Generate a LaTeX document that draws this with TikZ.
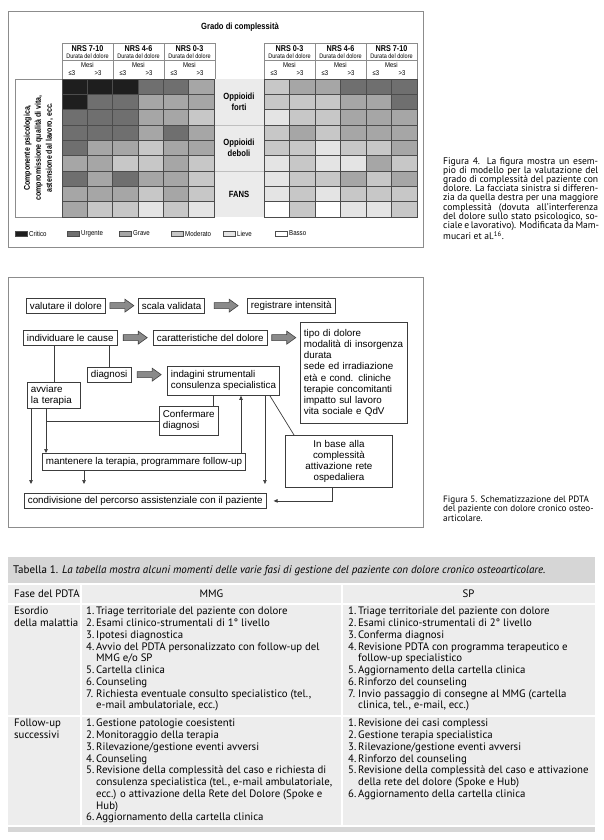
\documentclass[tikz,border=0pt]{standalone}
\usepackage{fontspec}
\setmainfont{Liberation Sans}
\newfontfamily\capfont{PT Sans}
\newfontfamily\condfont[FakeStretch=0.85]{Liberation Sans}
\usetikzlibrary{arrows.meta,positioning,calc}
\definecolor{lvlC}{HTML}{1E1E1E}
\definecolor{lvlU}{HTML}{6F6F6F}
\definecolor{lvlG}{HTML}{A6A6A6}
\definecolor{lvlM}{HTML}{C7C7C7}
\definecolor{lvlL}{HTML}{E4E4E4}
\definecolor{lvlB}{HTML}{FFFFFF}
\definecolor{framegray}{HTML}{8C8C8C}
\definecolor{midgray}{HTML}{EBEBEB}
\definecolor{bandgray}{HTML}{D6D6D6}
\definecolor{tabgray}{HTML}{EDEDED}
\definecolor{fatgray}{HTML}{8A8A8A}
\definecolor{boxline}{HTML}{3C3C3C}
\tikzset{
  cell/.style={draw=black!70, line width=0.5pt},
  hdr/.style={draw=black!45, line width=0.5pt},
  nrslabel/.style={font=\condfont\bfseries\fontsize{8.5}{9}\selectfont, inner sep=0pt},
  duratalabel/.style={font=\condfont\fontsize{6.5}{7}\selectfont, inner sep=0pt},
  mesilabel/.style={font=\condfont\fontsize{7}{8}\selectfont, inner sep=0pt},
  druglabel/.style={font=\condfont\bfseries\fontsize{9}{11}\selectfont, align=center, inner sep=0pt},
  sidelabel/.style={font=\condfont\bfseries\fontsize{8.3}{11}\selectfont, align=center, rotate=90, inner sep=0pt},
  legendtext/.style={font=\condfont\fontsize{7.2}{8}\selectfont, anchor=west, inner sep=0pt},
  flowbox/.style={draw=boxline, line width=0.8pt, fill=white, inner xsep=3.5pt, inner ysep=2pt, minimum height=14.5pt, font=\fontsize{9.8}{11}\selectfont, align=left, anchor=north west},
  link/.style={draw=boxline, line width=0.7pt},
  linkarrow/.style={link, -{Triangle[length=4pt,width=3.5pt]}},
  fatarrow/.style={draw=black!75, fill=fatgray, line width=0.6pt},
  capnode/.style={anchor=north west, inner sep=0pt, font=\capfont\fontsize{9.6}{9.2}\selectfont, align=left},
  tabtext/.style={anchor=north west, inner sep=0pt, font=\capfont\fontsize{10.8}{11.75}\selectfont, align=left}
}
\newcommand{\jline}[1]{\makebox[155pt][s]{#1}}
\newcommand{\itm}[2]{\makebox[10pt][l]{#1.}#2}
\newcommand{\cnt}{\hspace*{10pt}}
% block arrow between two boxes, at the height of the first one
\newcommand{\fatarrow}[2]{%
  \draw[fatarrow] let \p1=(#1.east), \p2=(#2.west) in
    ({0.5*(\x1+\x2)-12pt},\y1+3pt) -- ({0.5*(\x1+\x2)+3pt},\y1+3pt)
    -- ({0.5*(\x1+\x2)+3pt},\y1+6.5pt) -- ({0.5*(\x1+\x2)+12pt},\y1)
    -- ({0.5*(\x1+\x2)+3pt},\y1-6.5pt) -- ({0.5*(\x1+\x2)+3pt},\y1-3pt)
    -- ({0.5*(\x1+\x2)-12pt},\y1-3pt) -- cycle;}

\begin{document}
\begin{tikzpicture}[x=1pt, y=-1pt]
  \useasboundingbox (0,0) rectangle (603,840);

  % ---- Figura 4: grado di complessita
  \draw[framegray, line width=0.8pt] (8,11) rectangle (423,247);
  \node[font=\condfont\bfseries\fontsize{9}{10}\selectfont] (title4) at (240,27) {Grado di complessità};

  \foreach \gx/\nrs in {62/7-10, 113/4-6, 164/0-3, 264/0-3, 315/4-6, 366/7-10} {
    \draw[hdr] (\gx,43) rectangle ++(51,36);
    \draw[hdr] (\gx,60) -- ++(51,0);
    \node[nrslabel] (nrs\gx) at (\gx+25.5,49) {NRS \nrs};
    \node[duratalabel] (dur\gx) at (\gx+25.5,56) {Durata del dolore};
    \node[mesilabel] (mesi\gx) at (\gx+25.5,65) {Mesi};
    \node[mesilabel] (le\gx) at (\gx+10,73.5) {≤3};
    \node[mesilabel] (gt\gx) at (\gx+36,73.5) {>3};
  }

  \draw[hdr, fill=white] (15,79) rectangle (62,217);
  \node[sidelabel] (psico) at (38.5,148) {Componente psicologica,\\compromissione qualità di vita,\\astensione dal lavoro, ecc.};

  \fill[midgray] (214,79) rectangle (264,217);
  \draw[black!25, line width=0.6pt] (214,125) -- (264,125) (214,171) -- (264,171);
  \node[druglabel] (forti) at (239,102) {Oppioidi\\forti};
  \node[druglabel] (deboli) at (239,148) {Oppioidi\\deboli};
  \node[druglabel] (fans) at (239,194) {FANS};

  % left side
  \foreach \row [count=\r] in {{C,C,C,U,U,G},{C,U,U,G,G,G},{U,U,U,G,G,M},{U,U,U,G,U,G},{U,G,G,M,G,G},{G,G,M,M,G,M},{U,G,U,G,G,M},{G,G,G,M,G,M},{G,M,M,L,M,L}} {
    \foreach \c [count=\k] in \row {
      \draw[cell, fill=lvl\c] ({62+(\k-1)*25.33},{79+(\r-1)*15.33}) rectangle ++(25.33,15.33);
    }
  }
  % right side
  \foreach \row [count=\r] in {{M,G,G,U,U,U},{M,M,M,G,G,U},{L,M,M,G,G,G},{M,G,M,G,G,G},{M,M,L,M,M,G},{L,M,L,L,G,M},{L,M,M,G,M,G},{L,M,L,M,M,M},{B,M,B,L,L,M}} {
    \foreach \c [count=\k] in \row {
      \draw[cell, fill=lvl\c] ({264+(\k-1)*25.5},{79+(\r-1)*15.33}) rectangle ++(25.5,15.33);
    }
  }

  \foreach \lx/\lc/\ltext in {15/C/Critico, 67/U/Urgente, 119/G/Grave, 171/M/Moderato, 223/L/Lieve, 275/B/Basso} {
    \draw[cell, fill=lvl\lc] (\lx,231) rectangle ++(12,5);
    \node[legendtext] (leg\lc) at (\lx+14,233.5) {\ltext};
  }

  \node[capnode] (cap4) at (443,157) {\jline{Figura 4. La figura mostra un esem-}\\
    \jline{pio di modello per la valutazione del}\\
    \jline{grado di complessità del paziente con}\\
    \jline{dolore. La facciata sinistra si differen-}\\
    \jline{zia da quella destra per una maggiore}\\
    \jline{complessità (dovuta all’interferenza}\\
    \jline{del dolore sullo stato psicologico, so-}\\
    \jline{ciale e lavorativo). Modificata da Mam-}\\
    mucari et al.\textsuperscript{16}.};

  % ---- Figura 5: PDTA
  \draw[framegray, line width=0.8pt] (8,277) rectangle (423,527);

  \node[flowbox] (valutare) at (26,298) {valutare il dolore};
  \node[flowbox] (scala) at (138,298) {scala validata};
  \node[flowbox] (registrare) at (247,298) {registrare intensità};
  \node[flowbox] (individuare) at (23,330) {individuare le cause};
  \node[flowbox] (caratteristiche) at (153,330) {caratteristiche del dolore};
  \node[flowbox, text width=100pt, minimum height=101pt, font=\fontsize{9.8}{11.1}\selectfont] (tipo) at (300,322)
    {tipo di dolore\\modalità di insorgenza\\durata\\sede ed irradiazione\\età e cond. cliniche\\terapie concomitanti\\impatto sul lavoro\\vita sociale e QdV};
  \node[flowbox] (diagnosi) at (87,367) {diagnosi};
  \node[flowbox, minimum height=29pt] (indagini) at (167,366) {indagini strumentali\\consulenza specialistica};
  \node[flowbox, text width=46pt, minimum height=26pt] (avviare) at (27,382) {avviare\\la terapia};
  \node[flowbox, minimum height=29pt] (confermare) at (159,406) {Confermare\\diagnosi};
  \node[flowbox, minimum height=17pt] (mantenere) at (42,453) {mantenere la terapia, programmare follow-up};
  \node[flowbox, text width=100pt, minimum height=52pt, align=center] (inbase) at (285,435) {In base alla\\complessità\\attivazione rete\\ospedaliera};
  \node[flowbox, minimum height=15pt] (condivisione) at (24,493) {condivisione del percorso assistenziale con il paziente};

  \fatarrow{valutare}{scala}
  \fatarrow{scala}{registrare}
  \fatarrow{individuare}{caratteristiche}
  \fatarrow{caratteristiche}{tipo}
  \fatarrow{diagnosi}{indagini}

  \coordinate (tapconf) at ($(indagini.south west)+(46,0)$);
  \coordinate (tapup) at ($(mantenere.north west)+(199,0)$);
  \coordinate (tapdiag) at ($(indagini.south east)+(-10,0)$);
  \coordinate (tapdown) at ($(indagini.south east)+(-15,0)$);
  \coordinate (tapinbase) at ($(inbase.north west)+(9,0)$);
  \coordinate (tapleft) at ($(avviare.south west)+(4,0)$);
  \coordinate (tapmid) at ($(avviare.south west)+(19,0)$);
  \coordinate (tapmant) at ($(mantenere.south west)+(42,0)$);
  \coordinate (tapback) at ($(inbase.south west)+(47,0)$);

  \draw[link] (individuare.south -| avviare.north) -- (avviare.north);
  \draw[link] (individuare.south -| diagnosi.north) -- (diagnosi.north);
  \draw[link] (tapconf) -- (tapconf |- confermare.north);
  \draw[linkarrow] (tapup) -- (tapup |- indagini.south);
  \draw[link] (tapdiag) -- (tapinbase);
  \draw[link] (confermare.west) -- (confermare.west -| tapmid);
  \draw[linkarrow] (tapmid) -- (tapmid |- mantenere.north);
  \draw[linkarrow, shorten >=9pt] (tapleft) -- (tapleft |- condivisione.north);
  \draw[linkarrow, shorten >=9pt] (tapmant) -- (tapmant |- condivisione.north);
  \draw[linkarrow, shorten >=9pt] (tapdown) -- (tapdown |- condivisione.north);
  \draw[linkarrow, shorten >=7pt] (tapback) |- (condivisione.east);

  \node[capnode, font=\capfont\fontsize{9.2}{9.2}\selectfont] (cap5) at (443,496) {Figura 5. Schematizzazione del PDTA\\del paziente con dolore cronico osteo-\\articolare.};

  % ---- Tabella 1
  \fill[tabgray] (8,557) rectangle (595,832);
  \fill[bandgray] (8,557) rectangle (595,583);
  \fill[bandgray] (8,826) rectangle (595,832);
  \draw[white, line width=1.5pt] (8,584) -- (595,584) (8,604) -- (595,604) (8,716) -- (595,716) (8,826) -- (595,826);
  \draw[white, line width=1.5pt] (81,584) -- (81,826) (342,584) -- (342,826);

  \node[anchor=west, inner sep=0pt, font=\capfont\fontsize{11}{12}\selectfont] (tabcap) at (13,571)
    {Tabella 1. \textit{La tabella mostra alcuni momenti delle varie fasi di gestione del paziente con dolore cronico osteoarticolare.}};
  \node[anchor=west, inner sep=0pt, font=\capfont\fontsize{10.8}{12}\selectfont] (hfase) at (14,594) {Fase del PDTA};
  \node[inner sep=0pt, font=\capfont\fontsize{10.8}{12}\selectfont] (hmmg) at (211.5,594) {MMG};
  \node[inner sep=0pt, font=\capfont\fontsize{10.8}{12}\selectfont] (hsp) at (468.5,594) {SP};

  \node[tabtext] (esordio) at (14,607) {Esordio\\della malattia};
  \node[tabtext] (mmgone) at (86,607) {\itm{1}{Triage territoriale del paziente con dolore}\\
    \itm{2}{Esami clinico-strumentali di 1° livello}\\
    \itm{3}{Ipotesi diagnostica}\\
    \itm{4}{Avvio del PDTA personalizzato con follow-up del}\\
    \cnt MMG e/o SP\\
    \itm{5}{Cartella clinica}\\
    \itm{6}{Counseling}\\
    \itm{7}{Richiesta eventuale consulto specialistico (tel.,}\\
    \cnt e-mail ambulatoriale, ecc.)};
  \node[tabtext] (spone) at (348,607) {\itm{1}{Triage territoriale del paziente con dolore}\\
    \itm{2}{Esami clinico-strumentali di 2° livello}\\
    \itm{3}{Conferma diagnosi}\\
    \itm{4}{Revisione PDTA con programma terapeutico e}\\
    \cnt follow-up specialistico\\
    \itm{5}{Aggiornamento della cartella clinica}\\
    \itm{6}{Rinforzo del counseling}\\
    \itm{7}{Invio passaggio di consegne al MMG (cartella}\\
    \cnt clinica, tel., e-mail, ecc.)};

  \node[tabtext] (followup) at (14,719) {Follow-up\\successivi};
  \node[tabtext] (mmgtwo) at (86,719) {\itm{1}{Gestione patologie coesistenti}\\
    \itm{2}{Monitoraggio della terapia}\\
    \itm{3}{Rilevazione/gestione eventi avversi}\\
    \itm{4}{Counseling}\\
    \itm{5}{Revisione della complessità del caso e richiesta di}\\
    \cnt consulenza specialistica (tel., e-mail ambulatoriale,\\
    \cnt ecc.) o attivazione della Rete del Dolore (Spoke e\\
    \cnt Hub)\\
    \itm{6}{Aggiornamento della cartella clinica}};
  \node[tabtext] (sptwo) at (348,719) {\itm{1}{Revisione dei casi complessi}\\
    \itm{2}{Gestione terapia specialistica}\\
    \itm{3}{Rilevazione/gestione eventi avversi}\\
    \itm{4}{Rinforzo del counseling}\\
    \itm{5}{Revisione della complessità del caso e attivazione}\\
    \cnt della rete del dolore (Spoke e Hub)\\
    \itm{6}{Aggiornamento della cartella clinica}};
\end{tikzpicture}
\end{document}
